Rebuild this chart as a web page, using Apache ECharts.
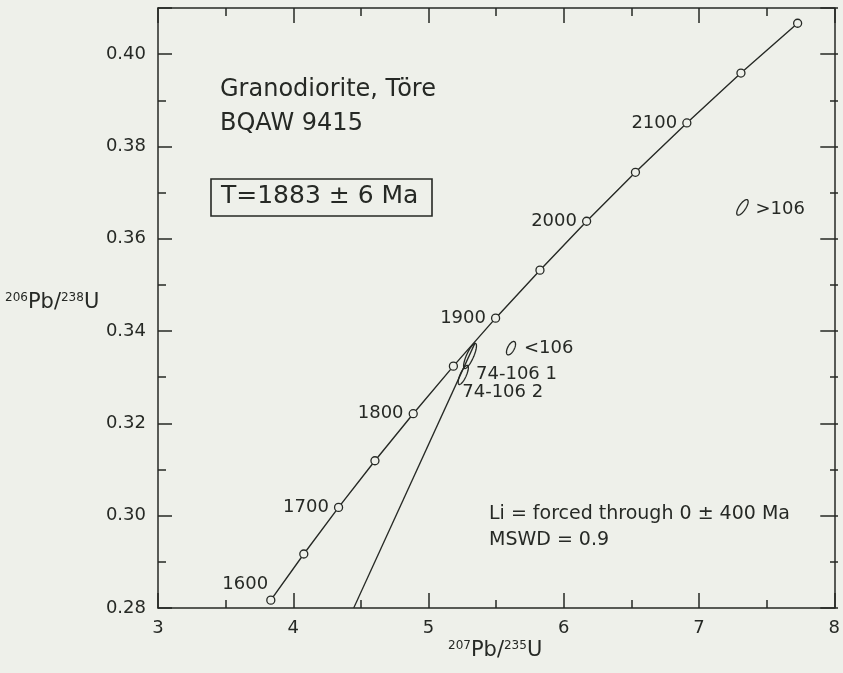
<!DOCTYPE html>
<html>
<head>
<meta charset="utf-8">
<script src="https://cdn.jsdelivr.net/npm/echarts@6/dist/echarts.min.js"></script>
<style>
html,body{margin:0;padding:0;background:#eef0ea;}
#chart{width:843px;height:673px;}
</style>
</head>
<body>
<div id="chart"></div>
<script>
// ---- data ----
const concAges = [1600, 1650, 1700, 1750, 1800, 1850, 1900, 1950, 2000, 2050, 2100, 2150, 2200];
const concX = [3.834, 4.078, 4.335, 4.604, 4.887, 5.184, 5.496, 5.824, 6.169, 6.530, 6.910, 7.310, 7.729];
const concY = [0.2817, 0.2917, 0.3018, 0.3119, 0.3221, 0.3324, 0.3428, 0.3532, 0.3638, 0.3744, 0.3851, 0.3959, 0.4067];
const labeledAges = [1600, 1700, 1800, 1900, 2000, 2100];

const discordiaX = [4.447, 5.345];
const discordiaY = [0.280, 0.3375];

const ellipseNames = ['74-106 1', '74-106 2', '<106', '>106'];
const ellipseCX = [5.307, 5.257, 5.610, 7.321];
const ellipseCY = [0.3346, 0.3305, 0.3363, 0.3668];
const ellipseMajorX = [0.0412, 0.0316, 0.0257, 0.0368];
const ellipseMajorY = [0.00271, 0.00206, 0.00141, 0.00163];
const ellipseMinorX = [0.0240, 0.0205, 0.0215, 0.0205];
const ellipseMinorY = [-0.000320, -0.000275, -0.000340, -0.000400];

const xMin = 3, xMax = 8, xStep = 1;
const yMin = 0.28, yMax = 0.41, yStep = 0.02, yMinorStep = 0.01;

// ---- styles ----
const BG = '#eef0ea';
const INK = '#262925';
const FONT = '"DejaVu Sans", "Liberation Sans", sans-serif';
const ellipseLabelOffsets = [[6, 18], [-1, 17.5], [13, 0], [13, 2]];

const chart = echarts.init(document.getElementById('chart'), null, {renderer: 'canvas'});

const gridRect = {left: 158, right: 5, top: 8, bottom: 65};

const concData = concAges.map((a, i) => {
  const item = {value: [concX[i], concY[i]]};
  if (labeledAges.includes(a)) {
    item.label = {show: true, formatter: String(a), position: 'left', distance: 5};
    if (a === labeledAges[0]) item.label.offset = [7, -16];
  }
  return item;
});

const ellipseData = ellipseNames.map((n, i) => [ellipseCX[i], ellipseCY[i], ellipseMajorX[i], ellipseMajorY[i], ellipseMinorX[i], ellipseMinorY[i], i]);

function majorFormatter(v) {
  const k = (v - yMin) / yStep;
  return Math.abs(k - Math.round(k)) < 1e-6 ? v.toFixed(2) : '';
}

const axisLineStyle = {show: true, lineStyle: {color: INK, width: 1.5}};

const option = {
  backgroundColor: BG,
  animation: false,
  grid: [
    Object.assign({}, gridRect),
    Object.assign({}, gridRect)
  ],
  xAxis: [
    {type: 'value', gridIndex: 0, position: 'bottom', min: xMin, max: xMax, interval: xStep,
     axisLine: axisLineStyle,
     axisTick: {show: true, inside: true, length: 15, lineStyle: {color: INK, width: 1.5}},
     minorTick: {show: true, splitNumber: 2, length: 8, lineStyle: {color: INK, width: 1.5}},
     axisLabel: {color: INK, fontFamily: FONT, fontSize: 18, margin: 11},
     splitLine: {show: false}},
    {type: 'value', gridIndex: 0, position: 'top', min: xMin, max: xMax, interval: xStep,
     axisLine: axisLineStyle,
     axisTick: {show: true, inside: true, length: 15, lineStyle: {color: INK, width: 1.5}},
     minorTick: {show: true, splitNumber: 2, length: 8, lineStyle: {color: INK, width: 1.5}},
     axisLabel: {show: false},
     splitLine: {show: false}},
    {type: 'value', gridIndex: 1, min: xMin, max: xMax, show: false}
  ],
  yAxis: [
    {type: 'value', gridIndex: 0, position: 'left', min: yMin, max: yMax, interval: yStep,
     axisLine: axisLineStyle,
     axisTick: {show: true, inside: true, length: 14, lineStyle: {color: INK, width: 1.5}},
     axisLabel: {color: INK, fontFamily: FONT, fontSize: 18, margin: 12, formatter: majorFormatter},
     splitLine: {show: false}},
    {type: 'value', gridIndex: 0, position: 'right', min: yMin, max: yMax, interval: yStep,
     axisLine: axisLineStyle,
     axisTick: {show: true, inside: true, length: 14, lineStyle: {color: INK, width: 1.5}},
     axisLabel: {show: false},
     splitLine: {show: false}},
    {type: 'value', gridIndex: 1, position: 'left', min: yMin, max: yMax, interval: yMinorStep,
     axisLine: {show: false},
     axisTick: {show: true, inside: true, length: 8, lineStyle: {color: INK, width: 1.5}},
     axisLabel: {show: false},
     splitLine: {show: false}},
    {type: 'value', gridIndex: 1, position: 'right', min: yMin, max: yMax, interval: yMinorStep,
     axisLine: {show: false},
     axisTick: {show: true, inside: true, length: 8, lineStyle: {color: INK, width: 1.5}},
     axisLabel: {show: false},
     splitLine: {show: false}}
  ],
  series: [
    {
      name: 'discordia', type: 'line', xAxisIndex: 0, yAxisIndex: 0,
      data: discordiaX.map((x, i) => [x, discordiaY[i]]),
      symbol: 'none', lineStyle: {color: INK, width: 1.3}, z: 2
    },
    {
      name: 'concordia', type: 'line', xAxisIndex: 0, yAxisIndex: 0,
      data: concData,
      symbol: 'circle', symbolSize: 8, showAllSymbol: true,
      lineStyle: {color: INK, width: 1.4},
      itemStyle: {color: BG, borderColor: INK, borderWidth: 1.3},
      label: {color: INK, fontFamily: FONT, fontSize: 18},
      emphasis: {disabled: true},
      z: 3
    },
    {
      name: 'ellipses', type: 'custom', xAxisIndex: 0, yAxisIndex: 0,
      data: ellipseData,
      encode: {x: 0, y: 1},
      renderItem: function (params, api) {
        const cx = api.value(0), cy = api.value(1);
        const ax = api.value(2), ay = api.value(3), bx = api.value(4), by = api.value(5);
        const idx = api.value(6);
        const pts = [];
        for (let k = 0; k <= 72; k++) {
          const t = k / 72 * Math.PI * 2;
          pts.push(api.coord([cx + ax * Math.cos(t) + bx * Math.sin(t), cy + ay * Math.cos(t) + by * Math.sin(t)]));
        }
        const c = api.coord([cx, cy]);
        const off = ellipseLabelOffsets[idx];
        return {
          type: 'group',
          children: [
            {type: 'polygon', shape: {points: pts}, style: {fill: 'none', stroke: INK, lineWidth: 1.3}},
            {type: 'text', x: c[0] + off[0], y: c[1] + off[1],
             style: {text: ellipseNames[idx], fill: INK, font: '18px ' + FONT, align: 'left', verticalAlign: 'middle'}}
          ]
        };
      },
      z: 4
    }
  ],
  graphic: [
    {type: 'text', left: 220, top: 78, style: {text: 'Granodiorite, Töre', fill: INK, font: '24px ' + FONT}},
    {type: 'text', left: 220, top: 112, style: {text: 'BQAW 9415', fill: INK, font: '24px ' + FONT}},
    {type: 'rect', shape: {x: 211, y: 179, width: 221, height: 37}, style: {fill: 'none', stroke: INK, lineWidth: 1.6}},
    {type: 'text', left: 221, top: 184, style: {text: 'T=1883 ± 6 Ma', fill: INK, font: '25px ' + FONT}},
    {type: 'text', left: 489, top: 505, style: {text: 'Li = forced through 0 ± 400 Ma', fill: INK, font: '19px ' + FONT}},
    {type: 'text', left: 489, top: 531, style: {text: 'MSWD = 0.9', fill: INK, font: '19px ' + FONT}},
    {type: 'text', left: 5, top: 292, style: {
      text: '{s|206}{m|Pb/}{s|238}{m|U}', fill: INK,
      rich: {s: {fontSize: 12, fontFamily: FONT, verticalAlign: 'top', padding: [0,0,8,0], fill: INK, color: INK},
             m: {fontSize: 21, fontFamily: FONT, fill: INK, color: INK}}
    }},
    {type: 'text', left: 448, top: 640, style: {
      text: '{s|207}{m|Pb/}{s|235}{m|U}', fill: INK,
      rich: {s: {fontSize: 12, fontFamily: FONT, verticalAlign: 'top', padding: [0,0,8,0], fill: INK, color: INK},
             m: {fontSize: 21, fontFamily: FONT, fill: INK, color: INK}}
    }}
  ]
};

chart.setOption(option);
</script>
</body>
</html>
